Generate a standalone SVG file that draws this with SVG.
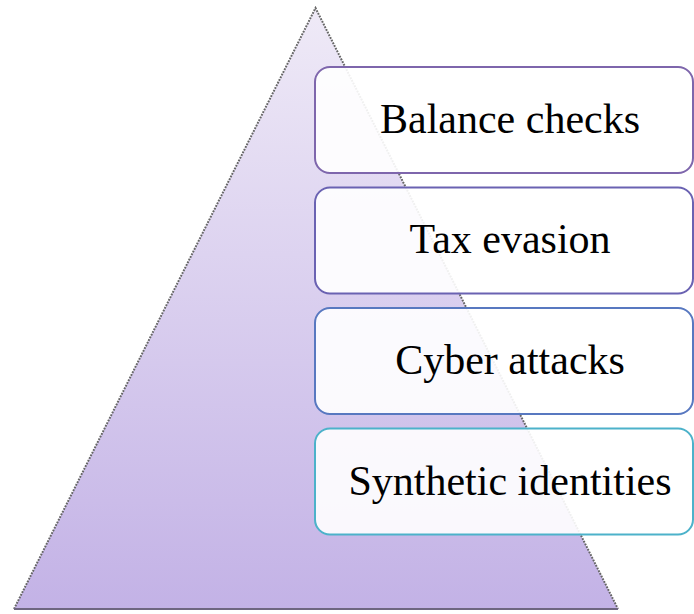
<svg xmlns="http://www.w3.org/2000/svg" width="694" height="614" viewBox="0 0 694 614">
  <defs>
    <linearGradient id="triFill" x1="0" y1="0" x2="0" y2="1">
      <stop offset="0" stop-color="#EFEAF7"/>
      <stop offset="1" stop-color="#C3B2E6"/>
    </linearGradient>
  </defs>
  <style>
    .box { fill: #FFFFFF; fill-opacity: 0.9; stroke-width: 2; }
    .lbl { font-family: "Liberation Serif", "Times New Roman", serif; font-size: 42px; fill: #000000; text-anchor: middle; }
    .side { fill: none; stroke: #666666; stroke-width: 2; stroke-dasharray: 1.8 1.2; }
  </style>
  <g id="pyramid">
    <polygon points="315.5,8 14,609 618,609" fill="url(#triFill)"/>
    <polyline class="side" points="14,609 315.5,8 618,609"/>
    <line x1="14" y1="609" x2="618" y2="609" stroke="#6E6680" stroke-width="2"/>
  </g>
  <g id="connectors"></g>
  <g id="node-balance">
    <rect class="box" x="315" y="67" width="378" height="106" rx="15" stroke="#7E66AC"/>
    <text class="lbl" x="510" y="133">Balance checks</text>
  </g>
  <g id="node-tax">
    <rect class="box" x="315" y="187.5" width="378" height="106" rx="15" stroke="#6A62B2"/>
    <text class="lbl" x="510" y="253">Tax evasion</text>
  </g>
  <g id="node-cyber">
    <rect class="box" x="315" y="308" width="378" height="106" rx="15" stroke="#5878C0"/>
    <text class="lbl" x="510" y="374">Cyber attacks</text>
  </g>
  <g id="node-synthetic">
    <rect class="box" x="315" y="428.5" width="378" height="106" rx="15" stroke="#4CB2CA"/>
    <text class="lbl" x="510" y="495">Synthetic identities</text>
  </g>
</svg>
